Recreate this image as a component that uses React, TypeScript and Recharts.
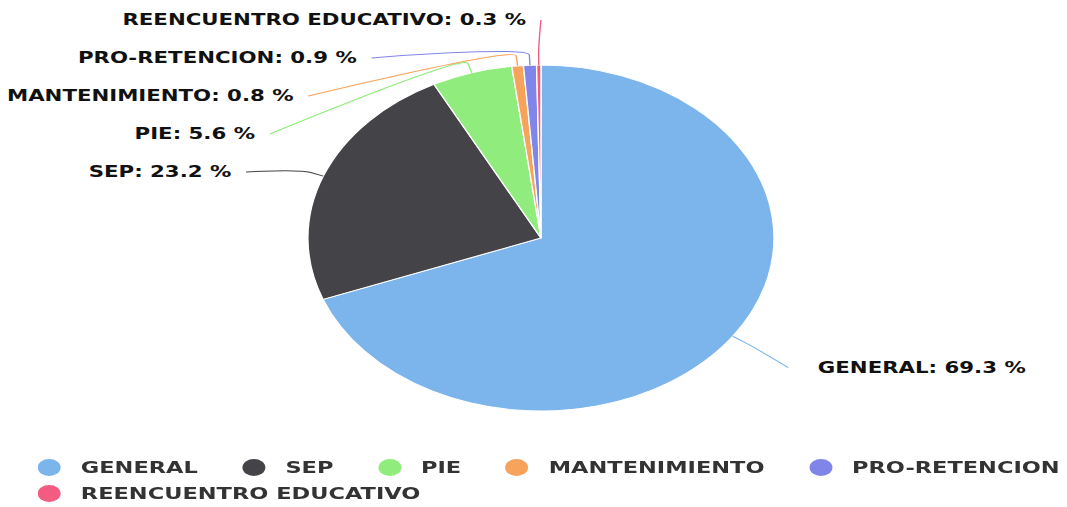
import React from "react";
import { PieChart, Pie, Cell, Legend } from "recharts";

// shares in percent, clockwise from the top
const categories = [
  "GENERAL",
  "SEP",
  "PIE",
  "MANTENIMIENTO",
  "PRO-RETENCION",
  "REENCUENTRO EDUCATIVO",
];
const shares = [69.3, 23.2, 5.6, 0.8, 0.9, 0.3];
const colors = ["#7cb5ec", "#434348", "#90ed7d", "#f7a35c", "#8085e9", "#f15c80"];

// the reference picture is stretched sideways, so draw narrow and scale up
const STRETCH = 1.347;
const WIDTH = 792;
const HEIGHT = 507;
const CX = 401.6;
const CY = 238;
const RADIUS = 173;

const LABEL_FONT = "'DejaVu Sans', Verdana, sans-serif";
const LABEL_GAP = 38;
const LABEL_TOP = 20;

const data = categories.map((name, i) => ({ name, value: shares[i], fill: colors[i] }));

type LabelPos = { theta: number; x: number; y: number; left: boolean };

// rough take on the highcharts label placement: natural y on a circle,
// pushed apart in clusters, x taken from an ellipse round the pie
function computeLayout(cx: number, cy: number, r: number): LabelPos[] {
  const total = shares.reduce((a, b) => a + b, 0);
  let acc = 0;
  const thetas = shares.map((v) => {
    const mid = ((acc + v / 2) / total) * 2 * Math.PI;
    acc += v;
    return mid;
  });
  const natural = thetas.map((t) => cy - (r + 55) * Math.cos(t));
  const ys = natural.slice();

  const distribute = (idxs: number[]) => {
    const sorted = [...idxs].sort((a, b) => natural[a] - natural[b]);
    let clusters = sorted.map((i) => ({ members: [i], start: natural[i] }));
    let merged = true;
    while (merged) {
      merged = false;
      for (let k = 0; k < clusters.length - 1; k++) {
        const a = clusters[k];
        const b = clusters[k + 1];
        if (a.start + a.members.length * LABEL_GAP > b.start) {
          const members = [...a.members, ...b.members];
          let s = 0;
          members.forEach((m, j) => (s += natural[m] - j * LABEL_GAP));
          let start = s / members.length;
          start = Math.max(LABEL_TOP, Math.min(start, HEIGHT - 60 - (members.length - 1) * LABEL_GAP));
          clusters.splice(k, 2, { members, start });
          merged = true;
          break;
        }
      }
      clusters.forEach((c) => {
        c.start = Math.max(LABEL_TOP, c.start);
      });
    }
    clusters.forEach((c) => c.members.forEach((m, j) => (ys[m] = c.start + j * LABEL_GAP)));
  };

  const leftIdx = thetas.map((t, i) => (t > Math.PI ? i : -1)).filter((i) => i >= 0);
  const rightIdx = thetas.map((t, i) => (t <= Math.PI ? i : -1)).filter((i) => i >= 0);
  distribute(leftIdx);
  distribute(rightIdx);

  const a = r + 57;
  const b = r + 42;
  return thetas.map((t, i) => {
    const left = t > Math.PI;
    const dy = (ys[i] - cy) / b;
    const dx = a * Math.sqrt(Math.max(0, 1 - dy * dy));
    return { theta: t, x: left ? cx - dx : cx + dx, y: ys[i], left };
  });
}

const renderLabel = (props: any) => {
  const { index, cx, cy, outerRadius } = props;
  const layout = computeLayout(cx ?? CX, cy ?? CY, outerRadius ?? RADIUS);
  const p = layout[index];
  const r = outerRadius ?? RADIUS;
  const c = { x: cx ?? CX, y: cy ?? CY };
  const at = (rad: number) => ({
    x: c.x + rad * Math.sin(p.theta),
    y: c.y - rad * Math.cos(p.theta),
  });
  const edge = at(r);
  const brk = at(r + 10);
  const ctrl = at(r + 20);
  const d = `M${p.x},${p.y} C${p.x},${p.y} ${ctrl.x},${ctrl.y} ${brk.x},${brk.y} L${edge.x},${edge.y}`;
  return (
    <g key={`lbl-${index}`}>
      <path d={d} stroke={colors[index]} strokeWidth={1} fill="none" />
      <text
        x={p.left ? p.x - 11 : p.x + 22}
        y={p.y}
        textAnchor={p.left ? "end" : "start"}
        dominantBaseline="central"
        fontFamily={LABEL_FONT}
        fontSize={15.8}
        fontWeight="bold"
        fill="#111"
      >
        {`${categories[index]}: ${shares[index]} %`}
      </text>
    </g>
  );
};

const renderLegend = (props: any) => {
  // keep the series order, not the alphabetical one
  const payload = [...(props.payload || [])].sort(
    (a: any, b: any) => categories.indexOf(a.value) - categories.indexOf(b.value)
  );
  return (
    <div
      style={{
        display: "flex",
        flexWrap: "wrap",
        width: 800,
        fontFamily: LABEL_FONT,
        fontSize: 16.7,
        fontWeight: "bold",
        color: "#333",
      }}
    >
      {payload.map((entry: any) => {
        const i = categories.indexOf(entry.value);
        return (
          <div
            key={`leg-${entry.value}`}
            style={{ display: "flex", alignItems: "center", height: 26, marginRight: 33 }}
          >
            <span
              style={{
                display: "inline-block",
                width: 17,
                height: 17,
                borderRadius: "50%",
                background: colors[i] || entry.color,
                marginRight: 15,
              }}
            />
            <span>{entry.value}</span>
          </div>
        );
      })}
    </div>
  );
};

export default function App() {
  return (
    <div
      style={{
        position: "absolute",
        left: 0,
        top: 0,
        width: WIDTH,
        height: HEIGHT,
        background: "#fff",
        transform: `scaleX(${STRETCH})`,
        transformOrigin: "0 0",
      }}
    >
      <PieChart width={WIDTH} height={HEIGHT} margin={{ top: 0, right: 0, bottom: 0, left: 0 }}>
        <Pie
          data={data}
          dataKey="value"
          nameKey="name"
          cx={CX}
          cy={CY}
          outerRadius={RADIUS}
          startAngle={90}
          endAngle={-270}
          stroke="#fff"
          strokeWidth={1}
          label={renderLabel}
          labelLine={false}
          isAnimationActive={false}
        >
          {data.map((d, i) => (
            <Cell key={d.name} fill={colors[i]} />
          ))}
        </Pie>
        <Legend
          content={renderLegend}
          wrapperStyle={{ left: 28, top: 454, width: 800 }}
        />
      </PieChart>
    </div>
  );
}
